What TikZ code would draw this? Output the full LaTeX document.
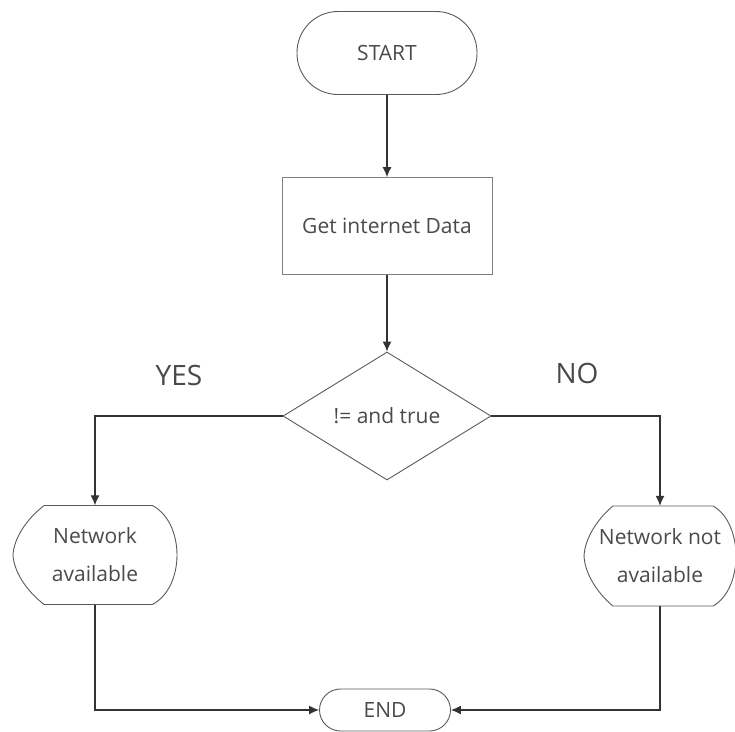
\documentclass[tikz,border=0pt]{standalone}
\usepackage{fontspec}
\setmainfont{Open Sans}
\usetikzlibrary{shapes.geometric,arrows.meta}
\definecolor{inkgray}{HTML}{4A4A4A}
\definecolor{edgegray}{HTML}{5A5A5A}
% outline of a display box round a named node: node, half width, half height
\newcommand{\dispoutline}[3]{%
	\begin{scope}[shift={(#1.center)}]
		\draw[outline] (-0.62*#2,-#3) -- (0.7*#2,-#3) .. controls (1.1*#2,-0.65*#3) and (1.1*#2,0.65*#3) .. (0.7*#2,#3)
			-- (-0.62*#2,#3) .. controls (-0.84*#2,0.72*#3) and (-0.99*#2,0.33*#3) .. (-#2,0)
			.. controls (-0.99*#2,-0.33*#3) and (-0.84*#2,-0.72*#3) .. (-0.62*#2,-#3);
	\end{scope}}
\begin{document}
\begin{tikzpicture}[x=1pt,y=-1pt,
	outline/.style={draw=edgegray,line width=0.9pt},
	txt/.style={text=inkgray,font=\fontsize{21}{38}\selectfont,align=center},
	terminal/.style={txt,outline,rounded corners=#1,inner sep=0pt},
	process/.style={txt,draw=gray,line width=0.8pt,minimum width=210pt,minimum height=97pt},
	decision/.style={txt,outline,diamond,aspect=1.625,inner sep=0pt,minimum width=208pt,minimum height=128pt},
	display/.style={txt,inner sep=0pt},
	branch/.style={text=inkgray,font=\fontsize{28}{32}\selectfont},
	flow/.style={draw=black!80,line width=1.1pt,-{Latex[length=10pt,width=9pt]}}]
	\useasboundingbox (0,0) rectangle (735,731);
	\node[terminal=41pt,minimum width=180pt,minimum height=83pt] (start) at (387,53) {START};
	\node[process] (getdata) at (387,226) {Get internet Data};
	\node[decision] (check) at (387,416) {!= and true};
	\node[branch] (yeslbl) at (179,375) {YES};
	\node[branch] (nolbl) at (577,373) {NO};
	\node[display,minimum width=164pt,minimum height=99pt] (avail) at (95,555) {Network\\available};
	\node[display,minimum width=152pt,minimum height=100pt] (notavail) at (660,556) {Network not\\available};
	\node[terminal=21pt,minimum width=131pt,minimum height=42pt] (end) at (385,710) {END};
	\dispoutline{avail}{82}{49.5}
	\dispoutline{notavail}{76}{50}
	\draw[flow] (start) -- (getdata);
	\draw[flow] (getdata) -- (check);
	\draw[flow] (check.west) -| (avail.north);
	\draw[flow] (check.east) -| (notavail.north);
	\draw[flow] (avail.south) |- (end.west);
	\draw[flow] (notavail.south) |- (end.east);
\end{tikzpicture}
\end{document}
